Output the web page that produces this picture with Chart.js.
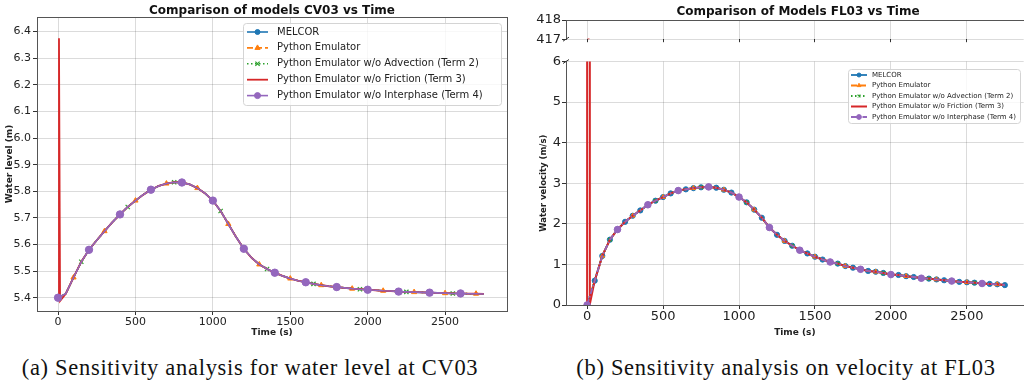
<!DOCTYPE html>
<html>
<head>
<meta charset="utf-8">
<script src="https://cdn.jsdelivr.net/npm/chart.js@4.4.1/dist/chart.umd.min.js"></script>
<style>
  body { margin: 0; width: 1028px; height: 384px; background: #fff; position: relative; overflow: hidden; font-family: "DejaVu Sans", sans-serif; }
  canvas { position: absolute; }
  .title { position: absolute; font-weight: bold; font-size: 12px; color: #111; white-space: nowrap; transform: translateX(-50%); }
  .caption { position: absolute; font-family: "Liberation Serif", serif; font-size: 22.5px; letter-spacing: 0.7px; color: #111; white-space: nowrap; transform: translateX(-50%); }
</style>
</head>
<body>
<canvas id="levelChart" width="520" height="340" style="left:0; top:0"></canvas>
<canvas id="velTop" width="508" height="48" style="left:520px; top:0"></canvas>
<canvas id="velChart" width="508" height="292" style="left:520px; top:48px"></canvas>
<div class="title" style="left:272px; top:3px">Comparison of models CV03 vs Time</div>
<div class="title" style="left:798px; top:4px">Comparison of Models FL03 vs Time</div>
<div class="caption" style="left:250px; top:355px">(a) Sensitivity analysis for water level at CV03</div>
<div class="caption" style="left:786px; top:355px">(b) Sensitivity analysis on velocity at FL03</div>
<script>
// time samples (s)
const time = [0, 50, 100, 150, 200, 250, 300, 350, 400, 450, 500, 550, 600, 650, 700, 750, 800, 850, 900, 950,
  1000, 1050, 1100, 1150, 1200, 1250, 1300, 1350, 1400, 1450, 1500, 1550, 1600, 1650, 1700, 1750, 1800, 1850, 1900, 1950,
  2000, 2050, 2100, 2150, 2200, 2250, 2300, 2350, 2400, 2450, 2500, 2550, 2600, 2650, 2700, 2750]

// water level at CV03 (m)
const waterLevel = [5.400, 5.415, 5.476, 5.535, 5.580, 5.616, 5.650, 5.683, 5.713, 5.741,
  5.765, 5.787, 5.806, 5.820, 5.829, 5.834, 5.833, 5.826, 5.812, 5.792,
  5.765, 5.726, 5.677, 5.628, 5.584, 5.550, 5.525, 5.508, 5.494, 5.482,
  5.472, 5.464, 5.458, 5.452, 5.447, 5.443, 5.440, 5.437, 5.434, 5.432,
  5.430, 5.428, 5.426, 5.425, 5.423, 5.422, 5.421, 5.420, 5.419, 5.418,
  5.417, 5.416, 5.416, 5.415, 5.415, 5.414]

// water velocity at FL03 (m/s)
const waterVelocity = [0, 0.60, 1.21, 1.61, 1.86, 2.05, 2.20, 2.33, 2.47, 2.57,
  2.66, 2.75, 2.82, 2.85, 2.88, 2.90, 2.91, 2.89, 2.84, 2.77,
  2.66, 2.53, 2.35, 2.15, 1.91, 1.73, 1.58, 1.46, 1.35, 1.27,
  1.19, 1.12, 1.06, 1.02, 0.96, 0.92, 0.88, 0.84, 0.82, 0.79,
  0.75, 0.74, 0.71, 0.69, 0.66, 0.65, 0.63, 0.61, 0.59, 0.57,
  0.56, 0.55, 0.53, 0.52, 0.51, 0.49]

// w/o friction run blows up right at the start
const spikeTimeLevel = [0, 6, 13]
const spikeLevel = [5.400, 6.375, 5.388]
const spikeTimeVel = [0, 9, 18]
const spikeVel = [0, 417.03, 0.02]

const seriesNames = ['MELCOR', 'Python Emulator', 'Python Emulator w/o Advection (Term 2)',
  'Python Emulator w/o Friction (Term 3)', 'Python Emulator w/o Interphase (Term 4)']
const seriesColors = ['#1f77b4', '#ff7f0e', '#2ca02c', '#d62728', '#9467bd']

const timeTicks = [0, 500, 1000, 1500, 2000, 2500]
const levelTicks = [5.4, 5.5, 5.6, 5.7, 5.8, 5.9, 6.0, 6.1, 6.2, 6.3, 6.4]
const velTicks = [0, 1, 2, 3, 4, 5, 6]
const velTopTicks = [417, 418]

// where markers sit on each line
const everyPoint = time
const emulatorMarks = [100, 300, 500, 700, 900, 1100, 1300, 1500, 1700, 1900, 2100, 2300, 2500, 2700]
const advectionMarks = [150, 450, 750, 1050, 1350, 1650, 1950, 2250, 2550]
const interphaseMarks = [0, 200, 400, 600, 800, 1000, 1200, 1400, 1600, 1800, 2000, 2200, 2400, 2600]

const gridColor = 'rgba(0,0,0,0.14)'
const spineColor = '#555'

function points(xs, ys) {
    return xs.map((x, i) => ({x: x, y: ys[i]}))
}

function markAt(list, r) {
    return ctx => (ctx.raw && list.includes(ctx.raw.x)) ? r : 0
}

function makeSets(values, spikeT, spikeV, opt) {
    let main = points(time, values)
    let friction = points(spikeT, spikeV).concat(main.slice(1))
    let base = {borderWidth: opt.lw, tension: 0, pointHoverRadius: 0}
    return [
        Object.assign({}, base, {label: seriesNames[0], data: main, borderColor: seriesColors[0], backgroundColor: seriesColors[0],
            pointStyle: 'circle', pointRadius: markAt(opt.melcorMarks, opt.r), pointBorderWidth: 1, order: 5}),
        Object.assign({}, base, {label: seriesNames[1], data: main, borderColor: seriesColors[1], backgroundColor: seriesColors[1],
            borderDash: [6, 3], pointStyle: 'triangle', pointRadius: markAt(emulatorMarks, opt.r), pointBorderWidth: 1, order: 4}),
        Object.assign({}, base, {label: seriesNames[2], data: main, borderColor: seriesColors[2], backgroundColor: seriesColors[2],
            borderDash: [1.5, 2.5], pointStyle: 'crossRot', pointRadius: markAt(advectionMarks, opt.r), pointBorderWidth: 1.2, order: 3}),
        Object.assign({}, base, {label: seriesNames[3], data: friction, borderColor: seriesColors[3], backgroundColor: seriesColors[3],
            borderWidth: opt.lw + 0.2, pointRadius: 0, pointStyle: false, order: 2}),
        Object.assign({}, base, {label: seriesNames[4], data: main, borderColor: seriesColors[4], backgroundColor: seriesColors[4],
            borderDash: opt.purpleDash, pointStyle: 'circle', pointRadius: markAt(interphaseMarks, opt.r + 0.7), pointBorderWidth: 1, order: 1})
    ]
}

function useTicks(list) {
    return scale => { scale.ticks = list.map(v => ({value: v})) }
}

// matplotlib style legend box inside the plot
const boxLegend = {
    id: 'boxLegend',
    afterDatasetsDraw(chart, args, o) {
        if (!o.box) return
        let ctx = chart.ctx
        let [x, y, w, h] = o.box
        ctx.save()
        ctx.fillStyle = 'rgba(255,255,255,0.8)'
        ctx.strokeStyle = '#d4d4d4'
        ctx.lineWidth = 1
        ctx.beginPath()
        ctx.roundRect(x + 0.5, y + 0.5, w, h, 3)
        ctx.fill()
        ctx.stroke()
        ctx.font = o.font
        ctx.textBaseline = 'middle'
        chart.data.datasets.forEach((ds, i) => {
            let yy = y + o.first + i * o.step
            ctx.strokeStyle = ds.borderColor
            ctx.lineWidth = ds.borderWidth
            ctx.setLineDash(ds.borderDash || [])
            ctx.beginPath()
            ctx.moveTo(x + o.lineFrom, yy)
            ctx.lineTo(x + o.lineTo, yy)
            ctx.stroke()
            ctx.setLineDash([])
            if (ds.pointStyle && o.markers[i]) {
                ctx.fillStyle = ds.borderColor
                ctx.lineWidth = ds.pointBorderWidth
                Chart.helpers.drawPoint(ctx, {pointStyle: ds.pointStyle, radius: o.markers[i], rotation: 0, borderWidth: ds.pointBorderWidth},
                    x + (o.lineFrom + o.lineTo) / 2, yy)
            }
            ctx.fillStyle = '#222'
            ctx.fillText(ds.label, x + o.textX, yy)
        })
        ctx.restore()
    }
}

// little diagonal marks for the broken axis
const breakMarks = {
    id: 'breakMarks',
    afterDraw(chart, args, o) {
        if (!o.at) return
        let a = chart.chartArea
        let yy = o.at === 'top' ? a.top : a.bottom
        let ctx = chart.ctx
        ctx.save()
        ctx.strokeStyle = '#333'
        ctx.lineWidth = 1
        ctx.beginPath()
        ctx.moveTo(a.left - 3, yy + 2)
        ctx.lineTo(a.left + 3, yy - 2)
        ctx.stroke()
        ctx.restore()
    }
}

Chart.register(boxLegend, breakMarks)
Chart.defaults.font.family = '"DejaVu Sans", sans-serif'
Chart.defaults.color = '#222'

const plainNumber = v => String(v)

// ---- (a) water level ----
new Chart(document.getElementById('levelChart'), {
    type: 'line',
    data: {datasets: makeSets(waterLevel, spikeTimeLevel, spikeLevel, {lw: 1.6, r: 3, melcorMarks: interphaseMarks, purpleDash: []})},
    options: {
        responsive: false,
        animation: false,
        devicePixelRatio: 1,
        layout: {padding: {top: 17, right: 13, left: 0, bottom: 0}},
        plugins: {
            legend: {display: false},
            tooltip: {enabled: false},
            boxLegend: {box: [243, 23, 258, 82], font: '10px "DejaVu Sans"', first: 9, step: 15.9,
                lineFrom: 4, lineTo: 25, textX: 34, markers: [2.5, 3, 3, 0, 3]}
        },
        scales: {
            x: {
                type: 'linear', min: -136, max: 2900,
                afterBuildTicks: useTicks(timeTicks),
                afterFit: s => { s.height = 29 },
                grid: {color: gridColor, tickColor: '#333', tickLength: 4},
                border: {color: spineColor},
                ticks: {font: {size: 11}, padding: 1, maxRotation: 0, callback: plainNumber},
                title: {display: true, text: 'Time (s)', font: {size: 9, weight: 'bold'}, padding: {top: 0, bottom: 2}}
            },
            y: {
                min: 5.35, max: 6.455,
                afterBuildTicks: useTicks(levelTicks),
                afterFit: s => { s.width = 37 },
                grid: {color: gridColor, tickColor: '#333', tickLength: 4},
                border: {color: spineColor},
                ticks: {font: {size: 11}, padding: 2, callback: v => v.toFixed(1)},
                title: {display: true, text: 'Water level (m)', font: {size: 9, weight: 'bold'}, padding: {top: 4.5, bottom: 0}}
            },
            x2: {
                type: 'linear', position: 'top', min: -136, max: 2900,
                grid: {display: false, drawTicks: false}, ticks: {display: false},
                border: {color: spineColor}, afterFit: s => { s.height = 0 }
            },
            y2: {
                position: 'right', min: 5.35, max: 6.455,
                grid: {display: false, drawTicks: false}, ticks: {display: false},
                border: {color: spineColor}, afterFit: s => { s.width = 0 }
            }
        }
    }
})

// ---- (b) velocity, upper part of the broken axis ----
let velOpts = {lw: 1.8, r: 2.6, melcorMarks: everyPoint, purpleDash: [6, 2, 1.5, 2]}

new Chart(document.getElementById('velTop'), {
    type: 'line',
    data: {datasets: makeSets(waterVelocity, spikeTimeVel, spikeVel, velOpts)},
    options: {
        responsive: false,
        animation: false,
        devicePixelRatio: 1,
        layout: {padding: {top: 20, right: 0, left: 0, bottom: 0}},
        plugins: {legend: {display: false}, tooltip: {enabled: false}, breakMarks: {at: 'bottom'}},
        scales: {
            x: {
                type: 'linear', min: -139, max: 2874,
                afterBuildTicks: useTicks(timeTicks),
                afterFit: s => { s.height = 6 },
                grid: {color: gridColor, tickColor: '#333', tickLength: 3},
                border: {display: false},
                ticks: {display: false}
            },
            y: {
                min: 417, max: 418,
                afterBuildTicks: useTicks(velTopTicks),
                afterFit: s => { s.width = 46 },
                grid: {color: gridColor, tickColor: '#333', tickLength: 4},
                border: {color: spineColor},
                ticks: {font: {size: 13}, padding: 1}
            },
            x2: {
                type: 'linear', position: 'top', min: -139, max: 2874,
                grid: {display: false, drawTicks: false}, ticks: {display: false},
                border: {color: spineColor}, afterFit: s => { s.height = 0 }
            }
        }
    }
})

// ---- (b) velocity, lower part ----
new Chart(document.getElementById('velChart'), {
    type: 'line',
    data: {datasets: makeSets(waterVelocity, spikeTimeVel, spikeVel, velOpts)},
    options: {
        responsive: false,
        animation: false,
        devicePixelRatio: 1,
        layout: {padding: {top: 13.5, right: 0, left: 0, bottom: 0}},
        plugins: {
            legend: {display: false},
            tooltip: {enabled: false},
            breakMarks: {at: 'top'},
            boxLegend: {box: [328, 21, 172, 54], font: '7px "DejaVu Sans"', first: 6, step: 10.5,
                lineFrom: 3, lineTo: 19, textX: 24, markers: [2, 2.2, 2, 0, 2.4]}
        },
        scales: {
            x: {
                type: 'linear', min: -139, max: 2874,
                afterBuildTicks: useTicks(timeTicks),
                afterFit: s => { s.height = 35 },
                grid: {color: gridColor, tickColor: '#333', tickLength: 4},
                border: {color: spineColor},
                ticks: {font: {size: 13}, padding: 0, maxRotation: 0, callback: plainNumber},
                title: {display: true, text: 'Time (s)', font: {size: 9, weight: 'bold'}, padding: {top: 0, bottom: 2}}
            },
            y: {
                min: 0, max: 6,
                afterBuildTicks: useTicks(velTicks),
                afterFit: s => { s.width = 46 },
                grid: {color: gridColor, tickColor: '#333', tickLength: 4},
                border: {color: spineColor},
                ticks: {font: {size: 13}, padding: 1},
                title: {display: true, text: 'Water velocity (m/s)', font: {size: 8.5, weight: 'bold'}, padding: {top: 19, bottom: 0}}
            }
        }
    }
})
</script>
</body>
</html>
